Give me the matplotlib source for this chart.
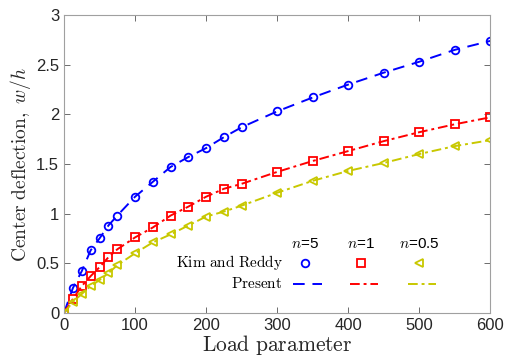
import numpy as np
import matplotlib.pyplot as plt
from matplotlib.ticker import FormatStrFormatter

plt.rcParams['mathtext.fontset'] = 'cm'
plt.rcParams['font.family'] = ['Liberation Sans', 'DejaVu Sans']

load = [0, 12.5, 25, 37.5, 50, 62.5, 75, 100, 125, 150, 175, 200, 225, 250,
        300, 350, 400, 450, 500, 550, 600]
w_n5 = [0, 0.25, 0.42, 0.63, 0.75, 0.88, 0.98, 1.17, 1.32, 1.47, 1.57, 1.66,
        1.77, 1.87, 2.03, 2.17, 2.30, 2.42, 2.53, 2.65, 2.74]
w_n1 = [0, 0.14, 0.27, 0.37, 0.46, 0.56, 0.64, 0.76, 0.86, 0.98, 1.07, 1.17,
        1.25, 1.30, 1.42, 1.53, 1.63, 1.73, 1.82, 1.90, 1.97]
w_n05 = [0, 0.11, 0.19, 0.27, 0.33, 0.40, 0.48, 0.60, 0.71, 0.79, 0.88, 0.97,
         1.02, 1.08, 1.21, 1.33, 1.43, 1.51, 1.60, 1.68, 1.74]

series = [w_n5, w_n1, w_n05]
names = ['$n$=5', '$n$=1', '$n$=0.5']
colors = ['#0000ff', '#ff0000', '#c8c800']
markers = ['o', 's', '<']
styles = [(0, (6, 4)), (0, (5, 2, 1.5, 2)), (0, (5, 2, 1.5, 2))]

fig = plt.figure(figsize=(5.08, 3.6), dpi=100)
ax = fig.add_axes([0.126, 0.131, 0.839, 0.827])

for i in range(3):
    ax.plot(load, series[i], color=colors[i], linestyle=styles[i], linewidth=1.4)
    ax.plot(load, series[i], color=colors[i], linestyle='none', marker=markers[i],
            markersize=5.5, markerfacecolor='none', markeredgewidth=1.3)

ax.set_xlim(0, 600)
ax.set_ylim(0, 3)
ax.set_xticks(np.arange(0, 601, 100))
ax.set_yticks(np.arange(0, 3.01, 0.5))
ax.yaxis.set_major_formatter(FormatStrFormatter('%g'))
ax.tick_params(direction='in', top=True, right=True, labelsize=12,
               color='#555555', labelcolor='#262626', length=4, width=0.6)
for s in ax.spines.values():
    s.set_color('#a0a0a0')
    s.set_linewidth(0.8)

ax.set_xlabel(r'$\mathrm{Load\ parameter}$', fontsize=15.5, color='#262626', labelpad=0)
ax.set_ylabel(r'$\mathrm{Center\ deflection,}\ w/h$', fontsize=14, color='#262626',
              labelpad=2)

# table-like legend
col_x = [339, 418, 500]
for i in range(3):
    ax.text(col_x[i], 0.69, names[i], fontsize=11, ha='center', va='center')
    ax.plot([col_x[i]], [0.505], color=colors[i], marker=markers[i], markersize=5.5,
            markerfacecolor='none', markeredgewidth=1.3, linestyle='none')
    ax.plot([col_x[i] - 16, col_x[i] + 24], [0.295, 0.295], color=colors[i],
            linestyle=styles[i], linewidth=1.4)
ax.text(308, 0.505, r'$\mathrm{Kim\ and\ Reddy}$', fontsize=11, ha='right', va='center')
ax.text(308, 0.295, r'$\mathrm{Present}$', fontsize=11, ha='right', va='center')

plt.savefig('out.png', dpi=100)
